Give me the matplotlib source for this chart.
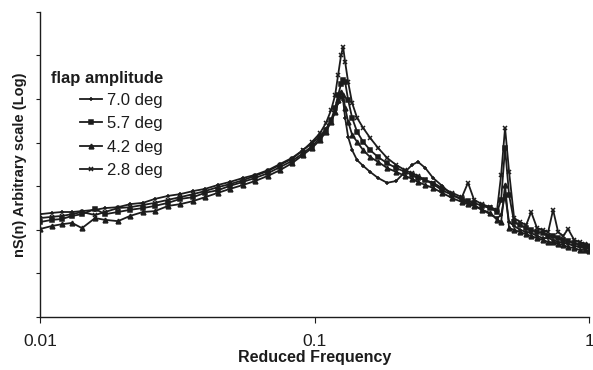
import matplotlib.pyplot as plt
from matplotlib.ticker import NullFormatter, NullLocator, FixedLocator
import numpy as np

# reduced frequency grid (shared by all runs)
freq = [0.0100, 0.01106, 0.01203, 0.01308, 0.01422, 0.01586, 0.01725, 0.01923, 0.02128, 0.0237,
        0.0262, 0.0293, 0.0324, 0.0361, 0.0399, 0.0445, 0.0492, 0.0549, 0.0607, 0.0677,
        0.0748, 0.0828, 0.0908, 0.0979, 0.1047, 0.1100, 0.1149, 0.1188, 0.1218, 0.1249,
        0.1270, 0.1292, 0.1325, 0.1370, 0.1428, 0.1502, 0.1593, 0.1703, 0.1837, 0.1980,
        0.2136, 0.2265, 0.2380, 0.2530, 0.2702, 0.2914, 0.3169, 0.3440, 0.3620, 0.3810,
        0.4070, 0.4360, 0.4620, 0.4780, 0.4940, 0.5110, 0.5330, 0.5610, 0.5896, 0.6150,
        0.6460, 0.6800, 0.7090, 0.7390, 0.7710, 0.8040, 0.8380, 0.8820, 0.9270, 0.9660,
        1.0000]

# log10 of nS(n), arbitrary units
log_s70 = [2.36, 2.39, 2.41, 2.41, 2.43, 2.46, 2.50, 2.52, 2.59, 2.62,
           2.71, 2.78, 2.82, 2.89, 2.94, 3.03, 3.10, 3.19, 3.26, 3.37,
           3.51, 3.65, 3.83, 3.99, 4.15, 4.31, 4.52, 4.70, 4.91, 5.05,
           4.98, 4.57, 4.13, 3.83, 3.60, 3.47, 3.33, 3.19, 3.08, 3.12,
           3.33, 3.49, 3.56, 3.42, 3.19, 3.01, 2.80, 2.69, 2.62, 2.57,
           2.46, 2.36, 2.27, 2.34, 2.80, 2.18, 2.09, 2.00, 1.95, 1.93,
           1.86, 1.81, 1.81, 1.77, 1.72, 1.70, 1.68, 1.63, 1.61, 1.58,
           1.58]
log_s57 = [2.18, 2.23, 2.25, 2.32, 2.36, 2.48, 2.36, 2.41, 2.46, 2.50,
           2.55, 2.62, 2.71, 2.75, 2.85, 2.91, 3.01, 3.10, 3.19, 3.30,
           3.44, 3.58, 3.76, 3.92, 4.11, 4.29, 4.52, 4.80, 5.09, 5.35,
           5.44, 5.39, 4.98, 4.57, 4.25, 4.02, 3.83, 3.67, 3.53, 3.42,
           3.33, 3.26, 3.19, 3.14, 3.05, 2.91, 2.80, 2.71, 2.66, 2.62,
           2.55, 2.50, 2.41, 2.69, 3.88, 2.80, 2.18, 2.11, 2.04, 2.00,
           1.95, 1.93, 1.86, 1.86, 1.81, 1.77, 1.74, 1.70, 1.65, 1.63,
           1.61]
log_s42 = [2.02, 2.09, 2.13, 2.16, 2.04, 2.27, 2.23, 2.20, 2.32, 2.41,
           2.43, 2.55, 2.59, 2.66, 2.75, 2.85, 2.94, 3.03, 3.12, 3.24,
           3.37, 3.53, 3.72, 3.88, 4.06, 4.25, 4.48, 4.70, 4.98, 5.16,
           5.09, 4.80, 4.48, 4.18, 4.02, 3.83, 3.67, 3.56, 3.42, 3.33,
           3.24, 3.17, 3.10, 3.03, 2.96, 2.85, 2.73, 2.64, 2.59, 2.55,
           2.46, 2.39, 2.23, 2.18, 3.03, 2.04, 2.00, 1.95, 1.90, 1.86,
           1.81, 1.77, 1.72, 1.72, 1.68, 1.65, 1.61, 1.58, 1.54, 1.54,
           1.51]
log_s28 = [2.27, 2.30, 2.32, 2.36, 2.41, 2.34, 2.41, 2.50, 2.52, 2.57,
           2.62, 2.69, 2.75, 2.82, 2.89, 2.98, 3.05, 3.14, 3.24, 3.35,
           3.49, 3.63, 3.83, 4.02, 4.22, 4.45, 4.75, 5.09, 5.55, 6.01,
           6.20, 5.85, 5.39, 4.91, 4.57, 4.34, 4.11, 3.88, 3.65, 3.49,
           3.37, 3.30, 3.24, 3.14, 3.08, 2.96, 2.85, 2.75, 3.08, 2.69,
           2.59, 2.52, 2.46, 3.26, 4.34, 3.33, 2.27, 2.18, 2.11, 2.41,
           2.04, 2.00, 1.95, 2.46, 1.95, 1.86, 2.02, 1.77, 1.72, 1.68,
           1.65]

labels = ['7.0 deg', '5.7 deg', '4.2 deg', '2.8 deg']
markers = ['+', 's', '^', 'x']

plt.rcParams['font.family'] = ['Liberation Sans', 'DejaVu Sans']

fig = plt.figure(figsize=(5.93, 3.70), dpi=100)
ax = fig.add_axes([0.0675, 0.143, 0.926, 0.825])

ink = '#1c1c1c'
for vals, lab, mk in zip([log_s70, log_s57, log_s42, log_s28], labels, markers):
    ax.plot(freq, 10 ** np.array(vals), color=ink, lw=1.3, marker=mk,
            markersize=3.4, markeredgewidth=1.1, label=lab)

ax.set_xscale('log')
ax.set_yscale('log')
ax.set_xlim(0.01, 1)
ax.set_ylim(1, 1e7)

ax.spines['top'].set_visible(False)
ax.spines['right'].set_visible(False)
for s in ['left', 'bottom']:
    ax.spines[s].set_color(ink)
    ax.spines[s].set_linewidth(1.0)

ax.xaxis.set_major_locator(FixedLocator([0.01, 0.1, 1]))
ax.xaxis.set_minor_locator(NullLocator())
ax.set_xticklabels(['0.01', '0.1', '1'])
ax.yaxis.set_major_locator(FixedLocator([10.0 ** k for k in range(8)]))
ax.yaxis.set_minor_locator(NullLocator())
ax.yaxis.set_major_formatter(NullFormatter())
ax.tick_params(axis='x', length=4, width=0.8, pad=8, labelsize=12.5, colors=ink)
ax.tick_params(axis='y', length=3, width=0.8, colors=ink)

ax.set_xlabel('Reduced Frequency', fontsize=11.5, fontweight='bold', labelpad=1, color=ink)
ax.set_ylabel('nS(n) Arbitrary scale (Log)', fontsize=10.5, fontweight='bold', labelpad=3, color=ink)

fig.text(51 / 593, 1 - 78 / 370, 'flap amplitude', fontsize=12, fontweight='bold',
         va='center', ha='left', color=ink)
ax.legend(loc='upper left', bbox_to_anchor=(80 / 593, 1 - 93 / 370), bbox_transform=fig.transFigure,
          frameon=False, fontsize=12, handlelength=1.3, handletextpad=0.3,
          labelspacing=0.5, borderpad=0, borderaxespad=0, labelcolor=ink)

fig.savefig('out.png', dpi=100)
